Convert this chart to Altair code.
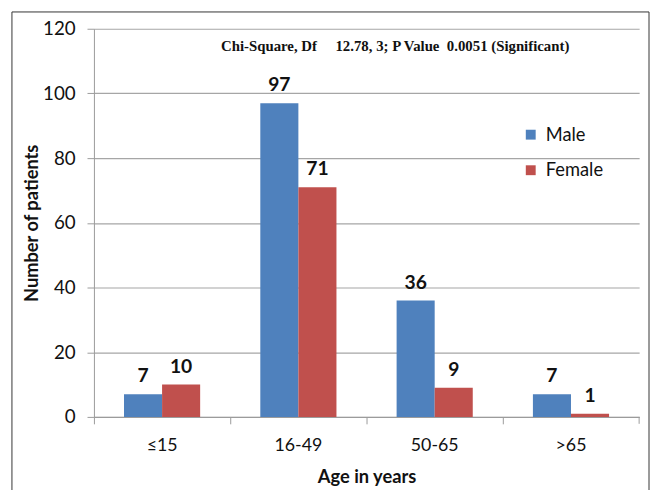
import altair as alt
import pandas as pd

categories = ["≤15", "16-49", "50-65", ">65"]
male = [7, 97, 36, 7]
female = [10, 71, 9, 1]
series = ["Male", "Female"]
colors = ["#4F81BD", "#C0504D"]
y_ticks = [0, 20, 40, 60, 80, 100, 120]
note = "Chi-Square, Df\u00a0\u00a0\u00a0\u00a0 12.78, 3; P Value\u00a0 0.0051 (Significant)"

rows = []
for c, m, f in zip(categories, male, female):
    rows.append({"Age": c, "Sex": "Male", "Count": m})
    rows.append({"Age": c, "Sex": "Female", "Count": f})
df = pd.DataFrame(rows)

W, H = 552, 393
FONT = "Lato"
AX = "#9a9a9a"

x = alt.X("Age:N", sort=categories, title="Age in years",
          scale=alt.Scale(paddingInner=0, paddingOuter=0),
          axis=alt.Axis(bandPosition=0, labelAngle=0, labelFontSize=18, labelFont=FONT,
                        labelColor="#111", titleFontSize=18.5, titleFont=FONT, titleFontWeight="bold",
                        titleColor="#111", domainColor=AX, tickColor=AX,
                        tickSize=7, labelPadding=13, titlePadding=13, grid=False))
xo = alt.XOffset("Sex:N", sort=series, scale=alt.Scale(paddingInner=0, paddingOuter=0.79))
y = alt.Y("Count:Q", title="Number of patients",
          scale=alt.Scale(domain=[0, 120], nice=False),
          axis=alt.Axis(values=y_ticks, labelFontSize=19, labelFont=FONT, labelColor="#111",
                        titleFontSize=18.5, titleFont=FONT, titleFontWeight="bold", titleColor="#111",
                        domainColor=AX, tickColor=AX, tickSize=7, labelPadding=12,
                        titlePadding=1, gridColor="#a6a6a6", gridWidth=1.2))

bars = alt.Chart(df).mark_bar().encode(
    x=x, xOffset=xo, y=y,
    color=alt.Color("Sex:N", sort=series, scale=alt.Scale(domain=series, range=colors),
                    legend=alt.Legend(title=None, orient="none", legendX=433, legendY=98,
                                      symbolType="square", symbolSize=100, symbolStrokeWidth=0,
                                      labelFontSize=18.5, labelFont=FONT, labelColor="#111",
                                      rowPadding=17, labelOffset=6, padding=0)),
)

labels = alt.Chart(df).mark_text(baseline="bottom", dy=-8, fontSize=19.5, fontWeight="bold",
                                 font=FONT, color="#111").encode(
    x=alt.X("Age:N", sort=categories), xOffset=xo, y="Count:Q", text="Count:Q")

note_text = alt.Chart(pd.DataFrame({"t": [note]})).mark_text(
    font="Liberation Serif", fontSize=15, fontWeight="bold", color="#111").encode(
    x=alt.value(305), y=alt.value(18), text="t:N")

end_tick = alt.Chart(pd.DataFrame({"a": [0]})).mark_rule(color=AX).encode(
    x=alt.value(W), y=alt.value(H), y2=alt.value(H + 7))

border = alt.Chart(pd.DataFrame({"a": [0]})).mark_rect(
    fill=None, stroke="#333", strokeWidth=1, clip=False).encode(
    x=alt.value(-83), x2=alt.value(562), y=alt.value(-17), y2=alt.value(480))

chart = alt.layer(border, bars, labels, note_text, end_tick).properties(
    width=W, height=H,
    autosize=alt.AutoSizeParams(type="none"),
    padding={"left": 87, "top": 18, "right": 11, "bottom": 71},
).configure_view(stroke=None)

chart.save("out.html", embed_options={"renderer": "svg", "actions": False})
